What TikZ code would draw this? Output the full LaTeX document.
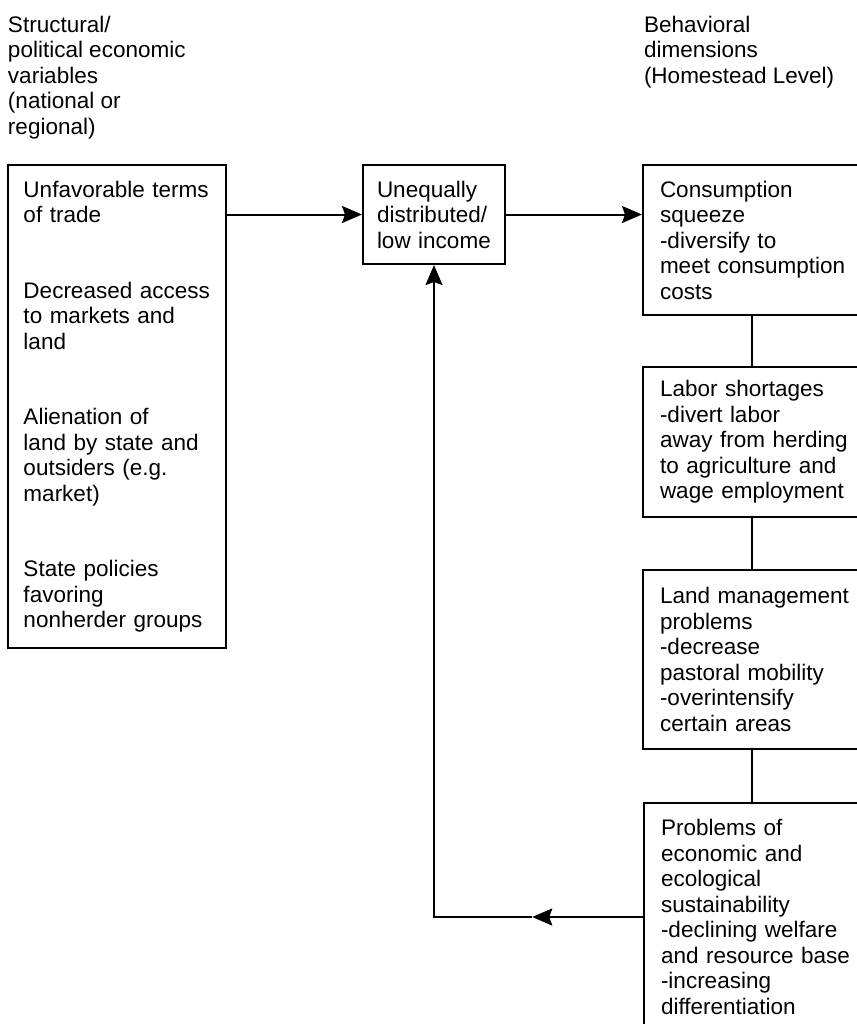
\documentclass[tikz,border=0pt]{standalone}
\usepackage{fontspec}
\setmainfont{Liberation Sans}
\usetikzlibrary{arrows.meta,calc}

\begin{document}
\begin{tikzpicture}[x=0.5pt,y=-0.5pt,line width=1pt,
  >={Stealth[length=10pt,width=8.5pt,inset=1.5pt]},
  txt/.style={anchor=north west,inner sep=0pt,align=left,font=\fontsize{11.25}{12.75}\selectfont},
  box/.style={draw,anchor=north west,inner xsep=8.5pt,inner ysep=0pt,align=left,text width=#1,font=\fontsize{11.25}{12.75}\selectfont},
  box/.default=105pt]
  \clip (0,0) rectangle (857,1024);

  % headings
  \node[txt] (struct) at (7,15) {Structural/\\political economic\\variables\\(national or\\regional)};
  \node[txt] (behav) at (643,15) {Behavioral\\dimensions\\(Homestead Level)};

  % left column
  \node[box=93.5pt,inner xsep=7.75pt,minimum height=241.5pt] (vars) at (7,164)
    {Unfavorable terms\\of trade\\[25pt]Decreased access\\to markets and\\land\\[25pt]Alienation of\\land by state and\\outsiders (e.g.\\market)\\[25pt]State policies\\favoring\\nonherder groups};

  % middle
  \node[box=57pt,inner xsep=7pt,minimum height=49.5pt] (income) at (362,164) {Unequally\\distributed/\\low income};

  % right column
  \node[box,minimum height=75pt] (cons) at (642,164) {Consumption\\squeeze\\-diversify to\\meet consumption\\costs};
  \node[box,minimum height=75pt] (labor) at (642,366) {Labor shortages\\-divert labor\\away from herding\\to agriculture and\\wage employment};
  \node[box,minimum height=89.5pt] (land) at (642,569) {Land management\\problems\\-decrease\\pastoral mobility\\-overintensify\\certain areas};
  \node[box,minimum height=114pt] (sust) at (643,802) {Problems of\\economic and\\ecological\\sustainability\\-declining welfare\\and resource base\\-increasing\\differentiation};

  \draw[->] (vars.east |- income.west) -- (income.west);
  \draw[->] (income.east) -- (cons.west |- income.east);
  \draw ([xshift=55pt]cons.south west) -- ([xshift=55pt]labor.north west);
  \draw ([xshift=55pt]labor.south west) -- ([xshift=55pt]land.north west);
  \draw ([xshift=55pt]land.south west) -- ([xshift=54.5pt]sust.north west);

  % feedback
  \coordinate (turn) at (income.south |- sust.west);
  \coordinate (back) at ($(turn)!0.47!(sust.west)$);
  \draw[->] (sust.west) -- (back);
  \draw[->] (back) -- (turn) -- (income.south);
\end{tikzpicture}
\end{document}
